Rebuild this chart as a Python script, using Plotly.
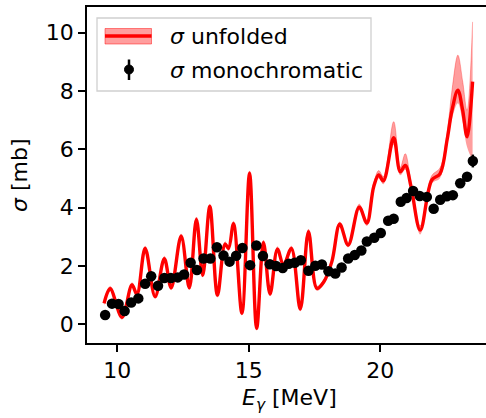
import plotly.graph_objects as go

# ---- data: unfolded cross section ----
unf_x = [9.50, 9.73, 10.18, 10.56, 10.75, 11.06, 11.44, 11.79, 12.05, 12.43, 12.74, 13.01,
         13.25, 13.52, 13.81, 14.10, 14.23, 14.42, 14.74, 15.03, 15.30, 15.56, 15.81, 16.09,
         16.32, 16.62, 16.96, 17.27, 17.59, 17.85, 18.16, 18.46, 18.78, 19.20, 19.49, 19.75,
         19.94, 20.12, 20.51, 20.76, 20.95, 21.17, 21.52, 21.96, 22.27, 22.54, 22.73, 22.95,
         23.13, 23.30, 23.51]
unf_y = [0.72, 1.22, 0.24, 1.35, 1.03, 2.60, 0.95, 2.25, 1.25, 3.02, 1.25, 3.60,
         1.68, 4.04, 1.00, 2.75, 2.60, 3.45, 0.38, 5.18, -0.14, 2.80, 1.04, 2.58,
         2.03, 2.60, 0.52, 3.18, 1.23, 1.45, 2.15, 3.43, 2.72, 4.02, 3.47, 4.72,
         5.12, 4.92, 6.40, 5.23, 5.45, 4.72, 3.23, 4.95, 5.16, 6.32, 7.35, 8.03,
         7.35, 6.43, 8.32]
unf_err_up = [0.08] * 33 + [0.10, 0.10, 0.12, 0.15, 0.15, 0.55, 0.15, 0.40, 0.15, 0.15, 0.15,
                            0.20, 0.25, 0.70, 1.20, 1.00, 0.90, 2.05]
unf_err_dn = [0.08] * 33 + [0.10, 0.10, 0.12, 0.12, 0.12, 0.25, 0.12, 0.15, 0.12, 0.15, 0.12,
                            0.15, 0.20, 0.30, 0.45, 0.40, 0.35, 2.70]

# ---- data: monochromatic measurements ----
mono_x = [9.54, 9.80, 10.05, 10.28, 10.53, 10.80, 11.06, 11.29, 11.55, 11.79, 12.04, 12.30,
          12.54, 12.79, 13.03, 13.28, 13.54, 13.79, 14.04, 14.27, 14.52, 14.76, 15.05, 15.29,
          15.54, 15.80, 16.04, 16.29, 16.52, 16.75, 16.98, 17.27, 17.53, 17.78, 18.03, 18.29,
          18.53, 18.78, 19.03, 19.28, 19.49, 19.77, 20.02, 20.30, 20.51, 20.78, 21.00, 21.25,
          21.50, 21.77, 22.03, 22.28, 22.53, 22.76, 23.04, 23.30, 23.52]
mono_y = [0.32, 0.71, 0.70, 0.46, 0.75, 0.89, 1.39, 1.65, 1.32, 1.59, 1.59, 1.61,
          1.71, 2.11, 1.86, 2.26, 2.26, 2.64, 2.36, 2.15, 2.35, 2.62, 2.03, 2.70,
          2.34, 2.06, 2.00, 1.93, 2.08, 2.11, 2.20, 1.84, 2.01, 2.05, 1.82, 1.74,
          1.95, 2.26, 2.38, 2.53, 2.84, 2.97, 3.13, 3.55, 3.62, 4.20, 4.33, 4.57,
          4.40, 4.37, 3.96, 4.27, 4.39, 4.43, 4.84, 5.06, 5.60]
mono_err = [0.06] * 40 + [0.07] * 10 + [0.08, 0.08, 0.09, 0.10, 0.12, 0.14, 0.22]

x_ticks = [10, 15, 20]
y_ticks = [0, 2, 4, 6, 8, 10]

W, H = 486, 418
L, R, T, B = 87, 0, 7, 75
X_RANGE = [8.85, 24.02]
Y_RANGE = [-0.64, 10.88]
FONT = "DejaVu Sans"
FS = 22

band_lo = [y - e for y, e in zip(unf_y, unf_err_dn)]
band_hi = [y + e for y, e in zip(unf_y, unf_err_up)]

fig = go.Figure()
fig.add_trace(go.Scatter(x=unf_x, y=band_lo, mode="lines",
                         line=dict(width=0, shape="spline", smoothing=1.0, color="rgba(255,0,0,0)"),
                         showlegend=False, hoverinfo="skip"))
fig.add_trace(go.Scatter(x=unf_x, y=band_hi, mode="lines", fill="tonexty",
                         fillcolor="rgba(255,0,0,0.38)",
                         line=dict(width=1, shape="spline", smoothing=1.0, color="rgba(255,0,0,0.3)"),
                         showlegend=False, hoverinfo="skip"))
fig.add_trace(go.Scatter(x=unf_x, y=unf_y, mode="lines",
                         line=dict(width=3.4, shape="spline", smoothing=1.0, color="#ff0000"),
                         showlegend=False))
fig.add_trace(go.Scatter(x=mono_x, y=mono_y, mode="markers",
                         marker=dict(size=10.5, color="black"),
                         error_y=dict(type="data", array=mono_err, color="black", thickness=2.5, width=0),
                         showlegend=False))

# ---- legend drawn by hand (pixel -> paper helpers) ----
pw, ph = W - L - R, H - T - B
def px(xp):
    return (xp - L) / pw
def py(yp):
    return (H - B - yp) / ph

shapes = []
shapes.append(dict(type="rect", xref="paper", yref="paper",
                   x0=px(97), x1=px(371), y0=py(91), y1=py(18),
                   line=dict(color="#d0d0d0", width=1.3), fillcolor="rgba(255,255,255,0.85)"))
shapes.append(dict(type="rect", xref="paper", yref="paper",
                   x0=px(105), x1=px(151.5), y0=py(44), y1=py(28.5),
                   line=dict(color="rgba(255,0,0,0.45)", width=1), fillcolor="rgba(255,0,0,0.38)"))
shapes.append(dict(type="line", xref="paper", yref="paper",
                   x0=px(105), x1=px(151.5), y0=py(36), y1=py(36),
                   line=dict(color="#ff0000", width=3.4)))
shapes.append(dict(type="line", xref="paper", yref="paper",
                   x0=px(129), x1=px(129), y0=py(80), y1=py(59.5),
                   line=dict(color="black", width=2.5)))
shapes.append(dict(type="circle", xref="paper", yref="paper",
                   x0=px(124.5), x1=px(133.5), y0=py(74), y1=py(65),
                   line=dict(color="black", width=1), fillcolor="black"))

annotations = [
    dict(text="<i>σ</i> unfolded", xref="paper", yref="paper", x=px(168), y=py(36),
         xanchor="left", yanchor="middle", showarrow=False, font=dict(family=FONT, size=FS, color="black")),
    dict(text="<i>σ</i> monochromatic", xref="paper", yref="paper", x=px(168), y=py(70),
         xanchor="left", yanchor="middle", showarrow=False, font=dict(family=FONT, size=FS, color="black")),
    dict(text="<i>E</i><sub><i>γ</i></sub> [MeV]", xref="paper", yref="paper", x=px(289), y=py(399),
         xanchor="center", yanchor="middle", showarrow=False, font=dict(family=FONT, size=FS, color="black")),
    dict(text="<i>σ</i> [mb]", xref="paper", yref="paper", x=px(19), y=py(175),
         xanchor="center", yanchor="middle", textangle=-90, showarrow=False,
         font=dict(family=FONT, size=FS, color="black")),
]

fig.update_layout(
    width=W, height=H,
    margin=dict(l=L, r=R, t=T, b=B, pad=0),
    paper_bgcolor="white", plot_bgcolor="white",
    showlegend=False,
    shapes=shapes, annotations=annotations,
    font=dict(family=FONT, size=FS, color="black"),
)
fig.update_xaxes(range=X_RANGE, tickvals=x_ticks, ticktext=[str(v) for v in x_ticks],
                 showgrid=False, zeroline=False, showline=True, linecolor="black", linewidth=1.5,
                 mirror=True, ticks="outside", ticklen=7, tickwidth=1.5, tickcolor="black",
                 tickfont=dict(family=FONT, size=FS, color="black"))
fig.update_yaxes(range=Y_RANGE, tickvals=y_ticks, ticktext=[str(v) for v in y_ticks],
                 showgrid=False, zeroline=False, showline=True, linecolor="black", linewidth=1.5,
                 mirror=False, ticks="outside", ticklen=7, tickwidth=1.5, tickcolor="black",
                 tickfont=dict(family=FONT, size=FS, color="black"))

fig.write_html("out.html")
